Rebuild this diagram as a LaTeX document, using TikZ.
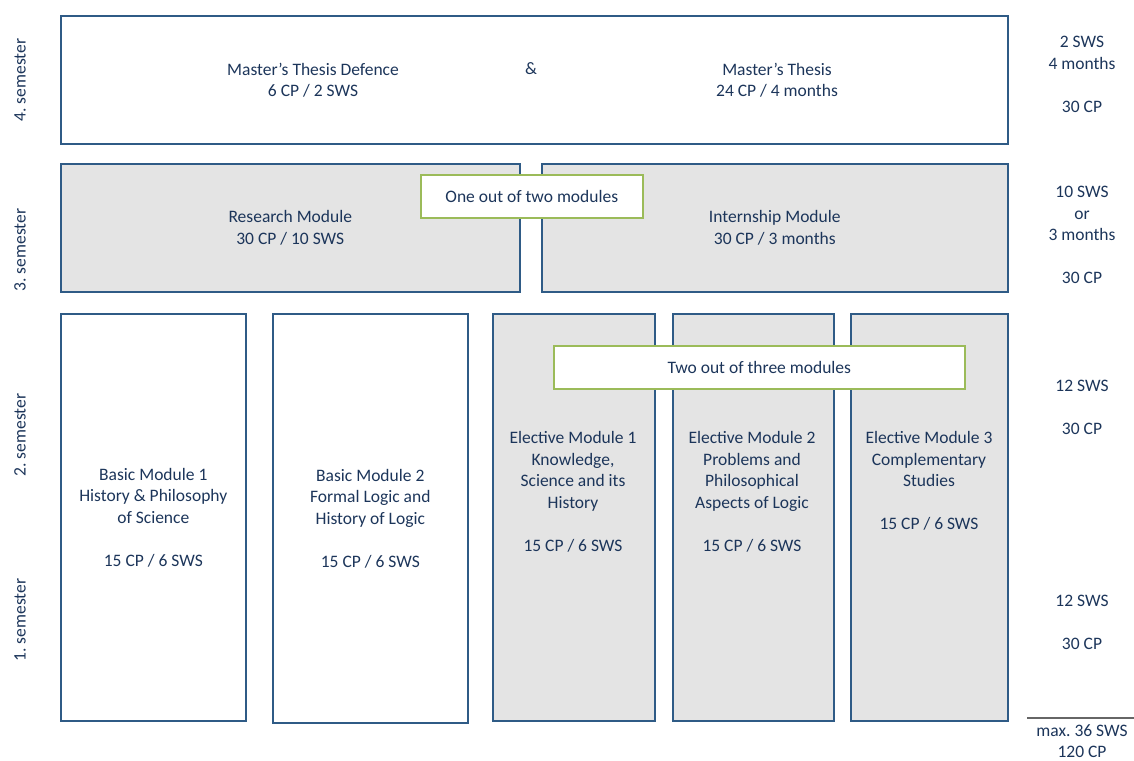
\documentclass[tikz,border=0pt]{standalone}
\usepackage{fontspec}
\setmainfont{Carlito}
\usepackage{tikz}
\usetikzlibrary{positioning}

\definecolor{txtblue}{HTML}{1C355A}
\definecolor{boxblue}{HTML}{2F5B86}
\definecolor{pickgreen}{HTML}{9BBB59}
\definecolor{modgray}{HTML}{E4E4E4}

\tikzset{
  modbox/.style={draw=boxblue,line width=1.6pt,inner sep=0pt,anchor=north west},
  elbox/.style={modbox,fill=modgray},
  pickbox/.style={draw=pickgreen,line width=1.6pt,fill=white,inner sep=0pt,anchor=north west},
  semlabel/.style={rotate=90,text=txtblue},
  sumtext/.style={text=txtblue,align=center}
}

\begin{document}
\frenchspacing
\begin{tikzpicture}[x=1pt,y=-1pt,font=\fontsize{17.5}{21.5}\selectfont,text=txtblue]
\useasboundingbox (0,0) rectangle (1134,760);
% 4. semester
\node[modbox,minimum width=947pt,minimum height=128pt] (thesis) at (60,15) {};
\node[align=center] (defence) at (313,80) {Master’s Thesis Defence\\6 CP / 2 SWS};
\node (amp) at (531,69) {\&};
\node[align=center] (mthesis) at (777,80) {Master’s Thesis\\24 CP / 4 months};
% 3. semester
\node[elbox,minimum width=459pt,minimum height=128pt] (research) at (60,163) {};
\node[elbox,minimum width=466pt,minimum height=128pt] (intern) at (541,163) {};
\node[align=center] at (research.center) {Research Module\\30 CP / 10 SWS};
\node[align=center] at (intern.center) {Internship Module\\30 CP / 3 months};
\node[pickbox,minimum width=222pt,minimum height=43pt] (pickone) at (420,174) {};
\node at (pickone.center) {One out of two modules};
% 1. and 2. semester
\node[modbox,minimum width=185pt,minimum height=407pt] (basic1) at (60,313) {};
\node[modbox,minimum width=195pt,minimum height=409pt] (basic2) at (272,313) {};
\node[elbox,minimum width=162pt,minimum height=407pt] (elect1) at (492,313) {};
\node[elbox,minimum width=161pt,minimum height=407pt] (elect2) at (672,313) {};
\node[elbox,minimum width=157pt,minimum height=407pt] (elect3) at (850,313) {};
\node[align=center] at (basic1.center) {Basic Module 1\\History \& Philosophy\\of Science\\[21.5pt]15 CP / 6 SWS};
\node[align=center] at (basic2.center) {Basic Module 2\\Formal Logic and\\History of Logic\\[21.5pt]15 CP / 6 SWS};
\node[align=center,anchor=north] at (573,428) {Elective Module 1\\Knowledge,\\Science and its\\History\\[21.5pt]15 CP / 6 SWS};
\node[align=center,anchor=north] at (752,428) {Elective Module 2\\Problems and\\Philosophical\\Aspects of Logic\\[21.5pt]15 CP / 6 SWS};
\node[align=center,anchor=north] at (929,428) {Elective Module 3\\Complementary\\Studies\\[21.5pt]15 CP / 6 SWS};
\node[pickbox,minimum width=411pt,minimum height=43pt] (pickthree) at (553,345) {};
\node at (pickthree.center) {Two out of three modules};
% semester labels
\node[semlabel] (sem4) at (20,80) {4. semester};
\node[semlabel] (sem3) at (20,250) {3. semester};
\node[semlabel] (sem2) at (20,435) {2. semester};
\node[semlabel] (sem1) at (20,620) {1. semester};
% totals
\node[sumtext,anchor=north] (tot4) at (1082,33) {2 SWS\\4 months\\[21.5pt]30 CP};
\node[sumtext,anchor=north] (tot3) at (1082,183) {10 SWS\\or\\3 months\\[21.5pt]30 CP};
\node[sumtext,anchor=north] (tot2) at (1082,377) {12 SWS\\[21.5pt]30 CP};
\node[sumtext,anchor=north] (tot1) at (1082,592) {12 SWS\\[21.5pt]30 CP};
\coordinate (rulel) at (1027,718);
\coordinate (ruler) at (1134,718);
\draw[gray!80!black,line width=1.2pt] (rulel) -- (ruler);
\node[sumtext,anchor=north] (total) at (1082,721) {max. 36 SWS\\120 CP};
\end{tikzpicture}
\end{document}
